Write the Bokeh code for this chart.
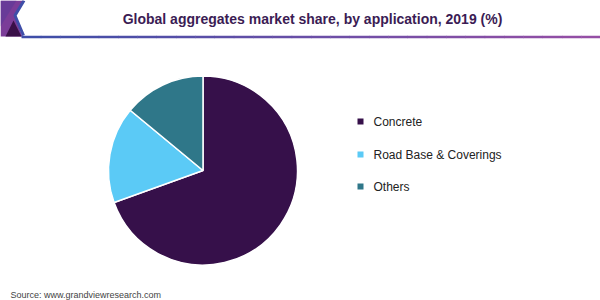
import math
from bokeh.plotting import figure
from bokeh.models import Range1d, ColumnDataSource
from bokeh.core.properties import value
from bokeh.embed import file_html
from bokeh.resources import INLINE

# ---- data ----
categories = ["Concrete", "Road Base & Coverings", "Others"]
shares = [69.5, 16.5, 14.0]
colors = ["#36104a", "#5bcaf6", "#2f7789"]
title_text = "Global aggregates market share, by application, 2019 (%)"
source_text = "Source: www.grandviewresearch.com"

W, H = 600, 300
p = figure(width=W, height=H, output_backend="svg", toolbar_location=None,
           x_range=Range1d(0, W), y_range=Range1d(0, H), min_border=0)
p.axis.visible = False
p.grid.visible = False
p.outline_line_color = None
p.background_fill_color = "white"
p.border_fill_color = "white"

def Y(y):
    return H - y

# ---- header decoration ----
p.patch([0, 23, 14, 22, 0], [Y(0), Y(0), Y(15), Y(36), Y(36)], fill_color="#7b3d98", line_color=None)
p.patch([0, 16, 0], [Y(0), Y(0), Y(26)], fill_color="#5c3a98", line_color=None, fill_alpha=0.6)
p.patch([13, 5, 21], [Y(20), Y(36), Y(36)], fill_color="#3a1048", line_color=None)
p.line([23.5, 14.5, 23], [Y(0), Y(15), Y(35)], line_color="#3f4ea8", line_width=3)
# gradient underline
n = 30
x0, x1 = 21, 600
c0 = (0x3f, 0x4e, 0xa8)
c1 = (0x95, 0x4f, 0xa5)
for i in range(n):
    t = i / (n - 1)
    c = "#%02x%02x%02x" % tuple(int(a + (b - a) * t) for a, b in zip(c0, c1))
    xa = x0 + (x1 - x0) * i / n
    xb = x0 + (x1 - x0) * (i + 1) / n + 0.5
    p.line([xa, xb], [Y(36.5), Y(36.5)], line_color=c, line_width=2.5)

p.text([312], [Y(18)], text=[title_text], text_font=value("Liberation Sans"),
       text_font_style="bold", text_font_size="14px", text_color="#3b1c54",
       text_align="center", text_baseline="middle")

# ---- pie ----
total = sum(shares)
starts, ends = [], []
cum = 0.0
for v in shares:
    starts.append(math.pi / 2 - 2 * math.pi * cum / total)
    cum += v
    ends.append(math.pi / 2 - 2 * math.pi * cum / total)
src = ColumnDataSource(dict(cat=categories, val=shares, start=starts, end=ends, color=colors))
p.wedge(x=202.5, y=Y(170), radius=94.5, start_angle="start", end_angle="end",
        direction="clock", fill_color="color", line_color="white", line_width=1.5, source=src)

# ---- legend ----
leg_y = [121, 154, 186]
p.rect(x=[360] * 3, y=[Y(v) for v in leg_y], width=6, height=6, fill_color=colors, line_color=None)
p.text(x=[373] * 3, y=[Y(v) for v in leg_y], text=categories, text_font=value("Liberation Sans"),
       text_font_size="12px", text_color="#222222", text_baseline="middle", text_align="left")

# ---- source ----
p.text([10], [Y(294)], text=[source_text], text_font=value("Liberation Sans"),
       text_font_size="9px", text_color="#444444", text_baseline="middle", text_align="left")

open("out.html", "w").write(file_html(p, INLINE))
